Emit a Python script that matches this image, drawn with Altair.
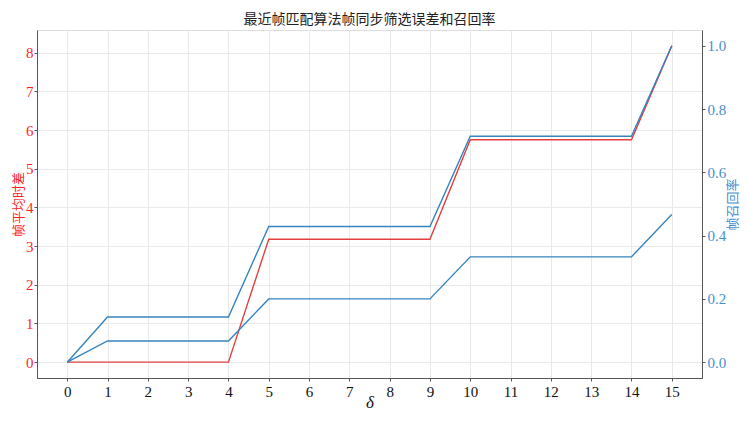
import altair as alt
import pandas as pd

delta = list(range(16))
frame_err = [0, 0, 0, 0, 0, 3.18, 3.18, 3.18, 3.18, 3.18, 5.75, 5.75, 5.75, 5.75, 5.75, 8.18]
recall_a = [0, 0.143, 0.143, 0.143, 0.143, 0.429, 0.429, 0.429, 0.429, 0.429,
            0.714, 0.714, 0.714, 0.714, 0.714, 1.0]
recall_b = [0, 0.067, 0.067, 0.067, 0.067, 0.2, 0.2, 0.2, 0.2, 0.2,
            0.333, 0.333, 0.333, 0.333, 0.333, 0.467]
left_ticks = [0, 1, 2, 3, 4, 5, 6, 7, 8]
right_ticks = [0.0, 0.2, 0.4, 0.6, 0.8, 1.0]

title_text = "最近帧匹配算法帧同步筛选误差和召回率"
left_title = "帧平均时差"
right_title = "帧召回率"

df_err = pd.DataFrame({"delta": delta, "err": frame_err})
df_rec = pd.DataFrame({
    "delta": delta + delta,
    "recall": recall_a + recall_b,
    "series": ["a"] * len(delta) + ["b"] * len(delta),
})

W, H = 665, 348
NUM_FONT = "Liberation Serif"
CJK_FONT = "Noto Sans CJK SC"
RED_LINE = "#e2403f"
BLUE_LINE = "#3584bf"
RED_TXT = "#ff1f1f"
BLUE_TXT = "#4690cf"
GRID = "#e9e9e9"
DOMAIN = "#555555"

x_enc = alt.X(
    "delta:Q",
    scale=alt.Scale(domain=[-0.75, 15.75], nice=False, zero=False),
    axis=alt.Axis(
        values=delta, title="δ", titleFontStyle="italic", titleFont=NUM_FONT,
        titleFontSize=17, titleFontWeight="normal", titleColor="#111",
        titleY=24, titleBaseline="middle",
        labelFont=NUM_FONT, labelFontSize=15, labelColor="#111",
        grid=True, gridColor=GRID, domainColor=DOMAIN, tickColor=DOMAIN,
        tickSize=3, labelPadding=3,
    ),
)

red = alt.Chart(df_err).mark_line(color=RED_LINE, strokeWidth=1.4).encode(
    x=x_enc,
    y=alt.Y(
        "err:Q",
        scale=alt.Scale(domain=[-0.41, 8.59], nice=False, zero=False),
        axis=alt.Axis(
            values=left_ticks, title=left_title, titleColor=RED_TXT,
            titleFont=CJK_FONT, titleFontSize=13, titleFontWeight="normal",
            titleAngle=270, titleX=-18.5, titleY=H / 2, titleAlign="center",
            titleBaseline="middle",
            labelFont=NUM_FONT, labelFontSize=15, labelColor=RED_TXT,
            grid=True, gridColor=GRID, domainColor=DOMAIN, tickColor=DOMAIN,
            tickSize=3, labelPadding=1,
        ),
    ),
)

blue = alt.Chart(df_rec).mark_line(color=BLUE_LINE, strokeWidth=1.4).encode(
    x=x_enc,
    y=alt.Y(
        "recall:Q",
        scale=alt.Scale(domain=[-0.05, 1.05], nice=False, zero=False),
        axis=alt.Axis(
            orient="right", values=right_ticks, format=".1f", title=right_title,
            titleColor=BLUE_TXT, titleFont=CJK_FONT, titleFontSize=13,
            titleFontWeight="normal", titleAngle=270, titleX=30, titleY=H / 2,
            titleAlign="center", titleBaseline="middle",
            labelFont=NUM_FONT, labelFontSize=15, labelColor=BLUE_TXT,
            grid=False, domainColor=DOMAIN, tickColor=DOMAIN,
            tickSize=3, labelPadding=2,
        ),
    ),
    detail="series:N",
)

chart = alt.layer(red, blue).resolve_scale(y="independent").properties(
    width=W,
    height=H,
    autosize=alt.AutoSizeParams(type="none"),
    padding={"left": 29, "top": 22, "right": 38, "bottom": 32},
    title=alt.TitleParams(
        title_text, font=CJK_FONT, fontSize=14, fontWeight="normal",
        color="#222", anchor="middle", offset=3,
    ),
).configure_view(stroke=DOMAIN, strokeWidth=1.2).configure(background="white")

chart.save("out.html", embed_options={"renderer": "svg", "actions": False})
